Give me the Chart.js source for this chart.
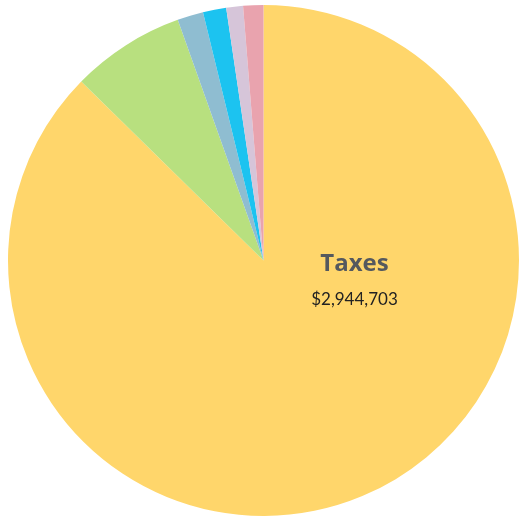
<!DOCTYPE html>
<html>
<head>
<meta charset="utf-8">
<script src="https://cdn.jsdelivr.net/npm/chart.js@4.4.0/dist/chart.umd.min.js"></script>
<style>
  html, body { margin: 0; padding: 0; background: #fff; }
  #wrap { width: 519px; height: 520px; }
</style>
</head>
<body>
<div id="wrap"><canvas id="pie"></canvas></div>
<script>
// 수입 구성 (시계 방향, 12시부터)
const categories = ['Taxes', 'Fees & Charges', 'Grants', 'Interest', 'Rentals', 'Other'];
const amounts = [2944703, 242500, 55300, 49600, 35700, 43000];
const sliceColors = ['#FFD66B', '#B8E07F', '#8FBDD1', '#1CC3F0', '#D6C5D9', '#E9A3AE'];

const fmtMoney = v => '$' + v.toLocaleString('en-US');

// 첫 조각 라벨
const sliceLabel = {
  id: 'sliceLabel',
  afterDatasetsDraw(chart) {
    const arc = chart.getDatasetMeta(0).data[0];
    if (!arc) return;
    const c = chart.ctx;
    const r = arc.outerRadius;
    const x = arc.x + r * 0.356;
    c.save();
    c.textAlign = 'center';
    c.textBaseline = 'middle';
    c.fillStyle = '#55595e';
    c.font = 'bold 24px "Open Sans", sans-serif';
    c.fillText(categories[0], x, arc.y + r * 0.016);
    c.fillStyle = '#222';
    c.font = '17px Lato, sans-serif';
    c.fillText(fmtMoney(amounts[0]), x, arc.y + r * 0.152);
    c.restore();
  }
};

new Chart(document.getElementById('pie'), {
  type: 'pie',
  data: {
    labels: categories,
    datasets: [{
      data: amounts,
      backgroundColor: sliceColors,
      borderWidth: 0,
    }]
  },
  options: {
    responsive: true,
    maintainAspectRatio: false,
    animation: false,
    layout: { padding: { left: 8, right: 0, top: 5, bottom: 4 } },
    plugins: {
      legend: { display: false },
      tooltip: { enabled: false },
    },
  },
  plugins: [sliceLabel]
});
</script>
</body>
</html>
